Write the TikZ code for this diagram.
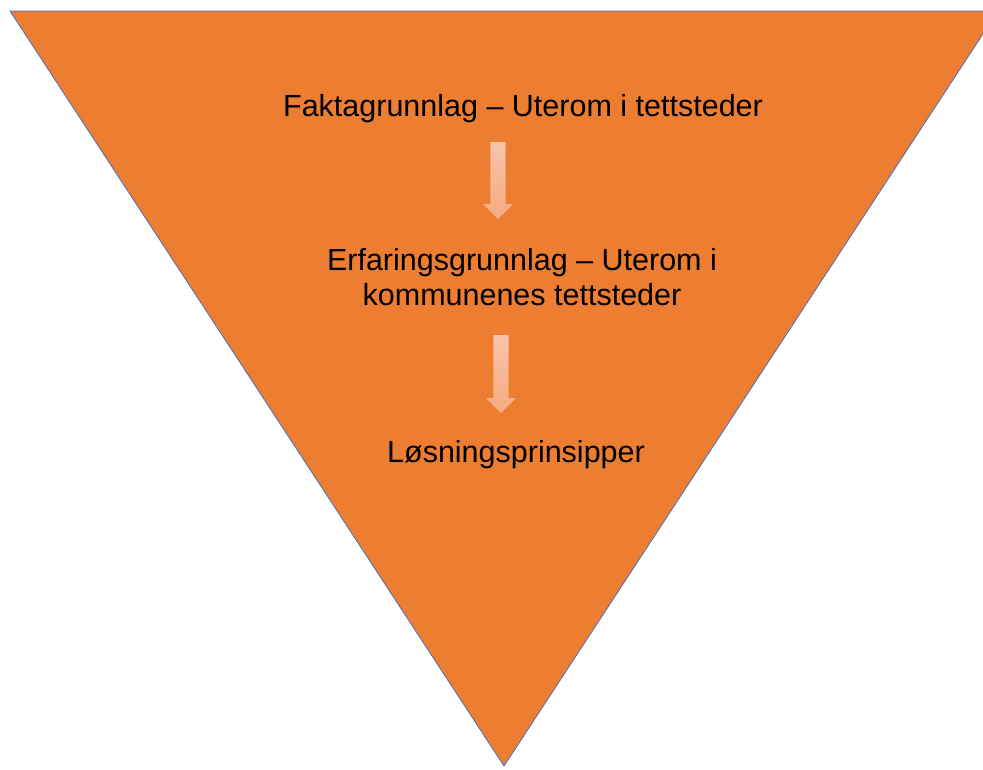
\documentclass[tikz,border=0pt]{standalone}
\usepackage{fontspec}
\setmainfont{Liberation Sans}
\usetikzlibrary{shapes.arrows}

\definecolor{funnelorange}{RGB}{237,125,49}
\definecolor{funneledge}{RGB}{68,114,196}
\definecolor{arrowtop}{RGB}{248,196,170}
\definecolor{arrowbottom}{RGB}{247,170,128}

\begin{document}
\begin{tikzpicture}[
        x=1pt,y=-1pt,
        font=\fontsize{30.5}{35}\selectfont,
        steptext/.style={anchor=base,align=center,inner sep=0pt},
        downarrow/.style={single arrow,shape border rotate=270,
            top color=arrowtop,bottom color=arrowbottom,draw=none,
            inner sep=7.5pt,minimum width=30pt,single arrow head extend=7.5pt,
            single arrow head indent=0pt,anchor=north}]

    \useasboundingbox (0,0) rectangle (983,769);
    \clip (0,0) rectangle (983,769);
    \fill[white] (0,0) rectangle (983,769);

    % funnel
    \filldraw[fill=funnelorange,draw=funneledge,line width=0.8pt]
        (10,11) -- (998,11) -- (504,766) -- cycle;

    \node[steptext] (fakta) at (523,116) {Faktagrunnlag -- Uterom i tettsteder};
    \node[steptext] (erfaring) at (522,305) {Erfaringsgrunnlag -- Uterom i\\kommunenes tettsteder};
    \node[steptext] (losning) at (516,462) {Løsningsprinsipper};

    \node[downarrow,minimum height=77pt] (pil1) at (498,142) {};
    \node[downarrow,minimum height=78pt] (pil2) at (501,335) {};
\end{tikzpicture}
\end{document}
